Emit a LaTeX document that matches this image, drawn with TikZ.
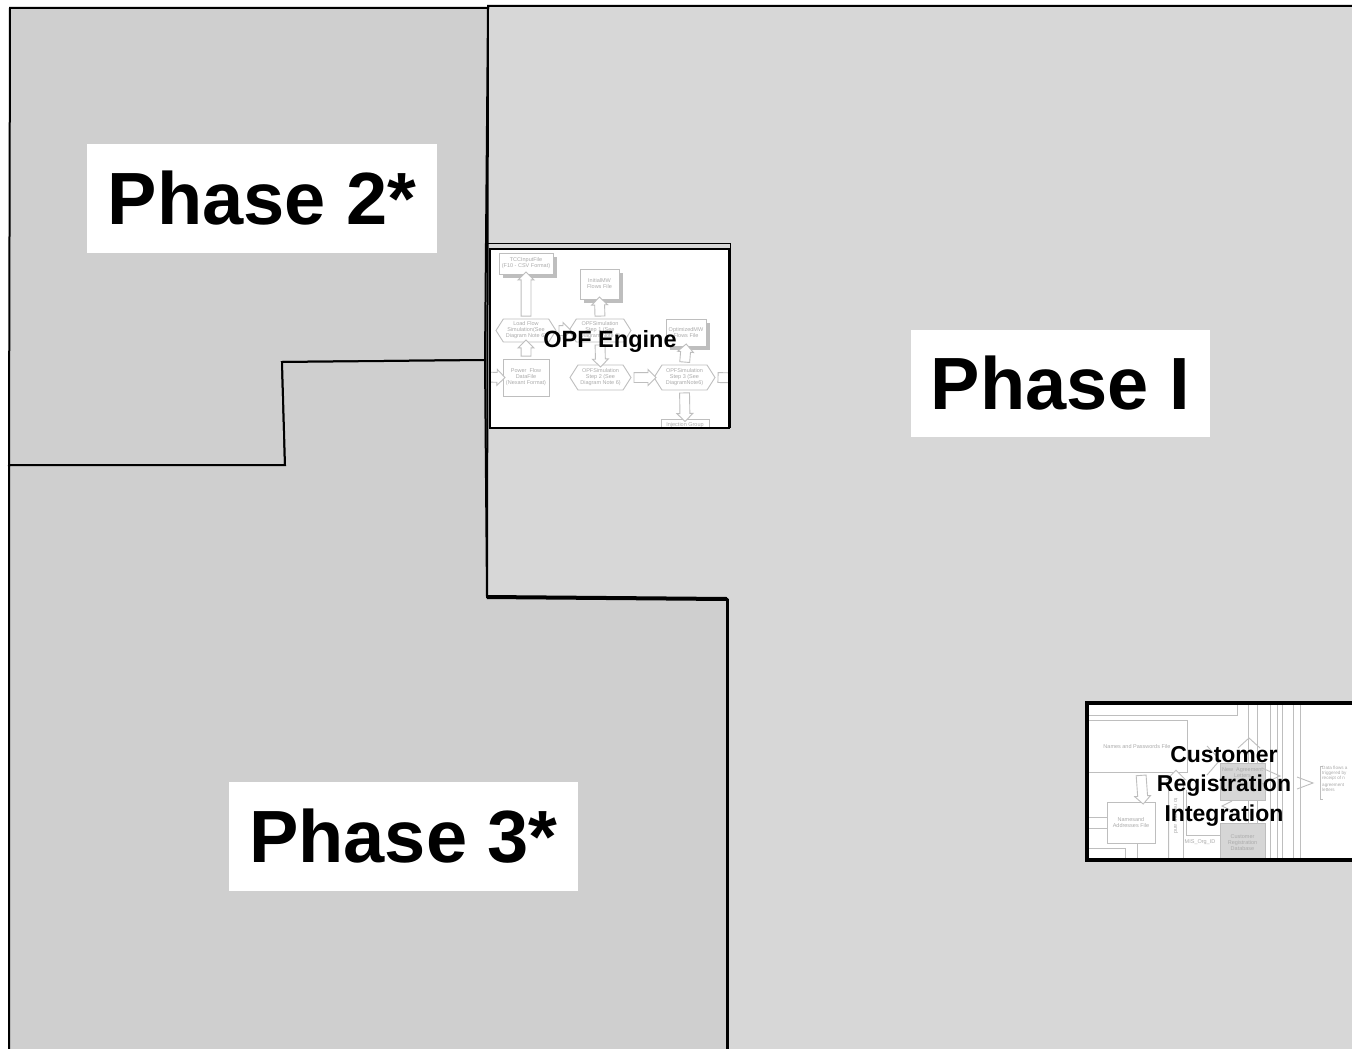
\documentclass[tikz,border=0pt]{standalone}
\usepackage{fontspec}
\setmainfont{Liberation Sans}
\usetikzlibrary{shapes.arrows,shapes.symbols,shadows,calc}
\definecolor{regA}{HTML}{CFCFCF}
\definecolor{regB}{HTML}{D7D7D7}
\definecolor{mini}{HTML}{BEBEBE}
\definecolor{minitext}{HTML}{ABABAB}
\definecolor{minifill}{HTML}{D6D6D6}
\tikzset{
 region/.style={draw=black, line width=2pt, line join=miter},
 phaselabel/.style={fill=white, font=\bfseries\fontsize{74}{80}\selectfont, inner sep=0pt, minimum height=109pt},
 minibox/.style={draw=mini, line width=0.9pt, fill=white, inner sep=0.5pt, align=center, font=\fontsize{5.5}{6}\selectfont, text=minitext},
 shadowed/.style={general shadow={fill=mini, shadow xshift=4pt, shadow yshift=-4pt}},
 hexa/.style={minibox, signal, signal to=west and east, signal pointer angle=115},
 barr/.style={single arrow, draw=mini, line width=0.9pt, fill=white, inner xsep=0pt, inner ysep=4.5pt, single arrow head extend=3pt, single arrow head indent=0pt},
 minitxt/.style={font=\fontsize{5.5}{6}\selectfont, text=minitext, inner sep=0pt, align=center},
 title/.style={font=\bfseries\fontsize{23.5}{30}\selectfont, align=center, inner sep=0pt},
 miniline/.style={draw=mini, line width=0.9pt},
}
\newcommand\opfarrow[3][]{\path let \p1=(#2), \p2=(#3), \n1={veclen(\x2-\x1,\y2-\y1)}, \n2={atan2(\y2-\y1,\x2-\x1)} in node[barr, minimum height=\n1, rotate=\n2, #1] at ($(\p1)!0.5!(\p2)$) {};}
\begin{document}
\begin{tikzpicture}[x=1pt,y=-1pt]
\useasboundingbox (0,0) rectangle (1352,1049);
\fill[white] (0,0) rectangle (1352,1049);
% regions
\draw[region, fill=regB] (488,6) -- (1362,6) -- (1362,1060) -- (727,1060) -- (727,599) -- (487,597) -- cycle;
\draw[region, fill=regA] (10,8) -- (488,8) -- (485,360) -- (282,362) -- (285,465) -- (9,465) -- cycle;
\draw[region, fill=regA] (9,465) -- (285,465) -- (282,362) -- (485,360) -- (487,597) -- (727,599) -- (727,1060) -- (9,1060) -- cycle;
\draw[line width=4pt] (487,597) -- (727,599);
\draw[line width=3pt] (727,599) -- (727,1060);

% phase labels
\node[phaselabel, minimum width=350pt] (p2) at (262,198.5) {Phase 2*};
\node[phaselabel, minimum width=299pt, minimum height=107pt] (p1) at (1060.5,383.5) {Phase I};
\node[phaselabel, minimum width=349pt] (p3) at (403.5,836.5) {Phase 3*};

% OPF engine box
\draw[line width=1pt] (487,243) -- (730,243) -- (730,428);
\node[fill=white, minimum width=239pt, minimum height=179pt, inner sep=0pt] (opfbox) at (609.5,338.5) {};
\begin{scope}
\clip (opfbox.north west) rectangle (opfbox.south east);
\node[minibox, shadowed, minimum width=54pt, minimum height=21pt] (tcc) at (526,263.5) {TCCInputFile\\(F10 - CSV Format)};
\node[minibox, shadowed, minimum width=39pt, minimum height=30pt] (init) at (599.5,284) {InitialMW\\Flows File};
\node[hexa, minimum width=60pt, minimum height=23pt] (lf) at (526,330.5) {Load Flow\\Simulation(See\\Diagram Note 6)};
\node[hexa, minimum width=62pt, minimum height=23pt] (s1) at (600,330.5) {OPFSimulation\\Step 1 (See\\Diagram Note 6)};
\node[minibox, shadowed, minimum width=40pt, minimum height=27pt] (opt) at (686,332.5) {OptimizedMW\\Flows File};
\node[minibox, minimum width=46pt, minimum height=37pt] (pf) at (526,377.5) {Power~~Flow\\DataFile\\(Nexant Format)};
\node[hexa, minimum width=61pt, minimum height=25pt] (s2) at (600.5,377.5) {OPFSimulation\\Step 2 (See\\Diagram Note 6)};
\node[hexa, minimum width=61pt, minimum height=25pt] (s3) at (684.5,377.5) {OPFSimulation\\Step 3 (See\\DiagramNote6)};
\node[minibox, minimum width=48pt, minimum height=11pt, anchor=north] (inj) at (685,419) {Injection Group};
\coordinate (opfin) at (484,377);
\coordinate (opfout) at (740,378);
\opfarrow{lf.north}{tcc.south}
\opfarrow{s1.north}{init.south}
\opfarrow{lf.east}{s1.west}
\opfarrow{s1.south}{s2.north}
\opfarrow{pf.north}{lf.south}
\opfarrow{opfin}{pf.west}
\opfarrow{s2.east}{s3.west}
\opfarrow{s3.north}{opt.south}
\opfarrow{s3.south}{inj.north}
\opfarrow{s3.east}{opfout}
\end{scope}
\draw[line width=2.5pt] (opfbox.north west) rectangle (opfbox.south east);
\node[title] (opftitle) at (610,341.3) {OPF Engine};

% Customer registration box
\node[fill=white, minimum width=275pt, minimum height=157pt, inner sep=0pt] (crbox) at (1224.5,781.5) {};
\begin{scope}
\clip (crbox.north west) rectangle (crbox.south east);
\draw[miniline] (1089,715) -- (1237,715) -- (1237,700);
\foreach \xx in {1248,1257,1270,1277,1282,1293,1300}{\draw[miniline] (\xx,700) -- (\xx,865);}
\node[minibox, minimum width=101pt, minimum height=52pt, anchor=north west] (npf) at (1086,720) {Names and Passwords File};
\node[minibox, minimum width=48pt, minimum height=41pt] (naf) at (1131,822.5) {Namesand\\Addresses File};
\opfarrow{$(npf.south)+(4,0)$}{$(naf.north)+(12,0)$}
\draw[miniline] (1089,817) -- (naf.west |- 0,817);
\draw[miniline] (1089,828) -- (naf.west |- 0,828);
\draw[miniline] (1089,848) -- (1125,848) -- (1125,865);
\draw[miniline] (1137,843) -- (1137,865);
\opfarrow[inner ysep=7pt, single arrow head extend=2pt]{1176,866}{1176,774}
\node[minitxt, rotate=-90] (vtxt) at (1176,816) {to remove and};
\draw[miniline] (1186,790) -- (1186,835) -- (1220,835);
\node[minitxt] (misorg) at (1200,842) {MIS\_Org\_ID};
\node[minibox, fill=minifill, minimum width=45pt, minimum height=37pt] (nal) at (1242.5,781.5) {};
\node[minitxt] (naltxt) at (1242.5,773) {New~~Agreement\\Letters};
\node[minibox, fill=minifill, minimum width=45pt, minimum height=39pt] (crd) at (1242.5,842.5) {Customer\\Registration\\Database};
\draw[miniline] (1207,746) -- (1220,760) -- (1207,775);
\draw[miniline] (1238,748) -- (1249,738) -- (1260,748);
\draw[miniline] (1262,768) -- (1280,776) -- (1262,784);
\draw[miniline] (1297,777) -- (1313,783) -- (1297,789);
\draw[miniline] (1232,801) -- (1222,806) -- (1232,811);
\draw[miniline] (1323,766) -- (1320,766) -- (1320,799) -- (1323,799);
\node[minitxt, font=\fontsize{4.6}{4.8}\selectfont, align=left, anchor=north west] (dataflow) at (1322,766) {Data flows a\\triggered by\\receipt of n\\[3pt]agreement\\letters};
\end{scope}
\draw[line width=4pt] (crbox.south east) -- (crbox.south west) -- (crbox.north west) -- (crbox.north east);
\node[title, font=\bfseries\fontsize{23}{29.5}\selectfont] (crtitle) at (1224,786) {Customer\\Registration\\Integration};
\end{tikzpicture}
\end{document}
